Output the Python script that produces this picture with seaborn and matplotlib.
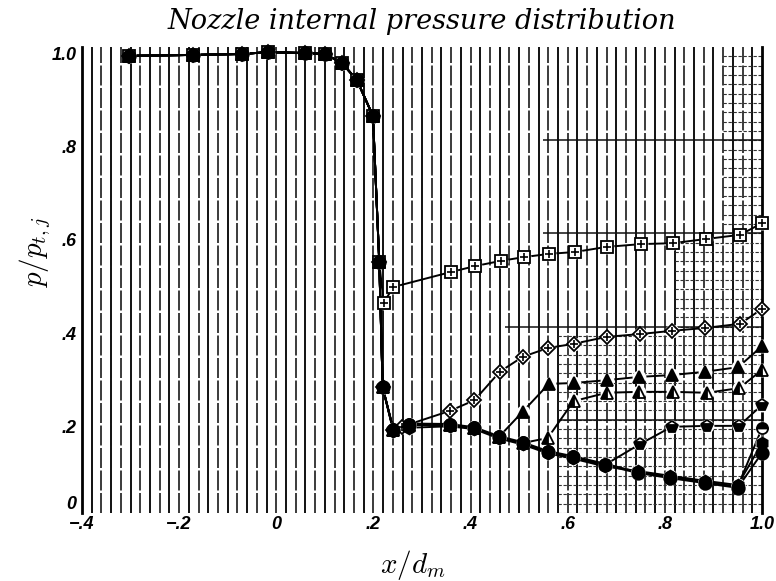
import numpy as np
import pandas as pd
import matplotlib
matplotlib.use("Agg")
import matplotlib.pyplot as plt
import seaborn as sns

sns.set_theme(style="white")
plt.rcParams["mathtext.fontset"] = "cm"
plt.rcParams["font.family"] = ["DejaVu Sans"]
plt.rcParams["text.color"] = "black"
plt.rcParams["axes.labelcolor"] = "black"
plt.rcParams["xtick.color"] = "black"
plt.rcParams["ytick.color"] = "black"

# Convergent-section taps, common to every run
x_upstream = [-0.303, -0.171, -0.071, -0.017, 0.059, 0.100, 0.135, 0.166, 0.199]
p_upstream = [0.981, 0.983, 0.985, 0.989, 0.987, 0.985, 0.966, 0.929, 0.852]

# Divergent-section taps for each run
x_run1 = [0.212, 0.221, 0.241, 0.359, 0.410, 0.462, 0.509, 0.561, 0.614, 0.680, 0.750, 0.816, 0.885, 0.955, 1.000]
p_run1 = [0.539, 0.451, 0.485, 0.517, 0.530, 0.541, 0.549, 0.556, 0.560, 0.571, 0.577, 0.579, 0.588, 0.597, 0.622]

x_run2 = [0.212, 0.219, 0.241, 0.258, 0.357, 0.408, 0.460, 0.507, 0.559, 0.612, 0.680, 0.749, 0.815, 0.882, 0.955, 1.000]
p_run2 = [0.539, 0.270, 0.178, 0.185, 0.219, 0.242, 0.303, 0.335, 0.354, 0.363, 0.378, 0.384, 0.391, 0.397, 0.406, 0.438]

x_run3 = [0.212, 0.219, 0.241, 0.274, 0.357, 0.408, 0.458, 0.507, 0.561, 0.612, 0.680, 0.746, 0.814, 0.882, 0.951, 1.000]
p_run3 = [0.539, 0.270, 0.178, 0.189, 0.189, 0.182, 0.163, 0.217, 0.277, 0.279, 0.285, 0.292, 0.296, 0.303, 0.313, 0.358]

x_run4 = [0.212, 0.219, 0.241, 0.274, 0.357, 0.408, 0.458, 0.507, 0.559, 0.612, 0.680, 0.746, 0.816, 0.887, 0.953, 1.000]
p_run4 = [0.539, 0.270, 0.178, 0.189, 0.189, 0.182, 0.163, 0.150, 0.161, 0.240, 0.258, 0.260, 0.260, 0.258, 0.268, 0.307]

x_run5 = [0.212, 0.219, 0.241, 0.274, 0.357, 0.408, 0.458, 0.507, 0.559, 0.610, 0.676, 0.749, 0.814, 0.887, 0.953, 1.000]
p_run5 = [0.539, 0.270, 0.178, 0.189, 0.189, 0.182, 0.163, 0.150, 0.131, 0.120, 0.103, 0.148, 0.185, 0.187, 0.187, 0.232]

x_run6 = [0.212, 0.219, 0.241, 0.274, 0.357, 0.408, 0.458, 0.507, 0.559, 0.610, 0.676, 0.744, 0.810, 0.883, 0.950, 1.000]
p_run6 = [0.539, 0.270, 0.178, 0.189, 0.189, 0.182, 0.163, 0.150, 0.131, 0.120, 0.103, 0.086, 0.075, 0.064, 0.054, 0.129]

x_run7 = [0.212, 0.219, 0.241, 0.274, 0.357, 0.408, 0.458, 0.507, 0.559, 0.610, 0.676, 0.744, 0.810, 0.883, 0.950, 1.000]
p_run7 = [0.539, 0.270, 0.175, 0.183, 0.186, 0.180, 0.160, 0.147, 0.128, 0.117, 0.100, 0.090, 0.080, 0.069, 0.060, 0.150]

x_run8 = [0.212, 0.219, 0.241, 0.274, 0.357, 0.408, 0.458, 0.507, 0.559, 0.610, 0.676, 0.744, 0.810, 0.883, 0.950, 1.000]
p_run8 = [0.539, 0.270, 0.180, 0.192, 0.191, 0.184, 0.165, 0.152, 0.133, 0.122, 0.106, 0.088, 0.078, 0.066, 0.057, 0.182]

runs = {
    1: (x_run1, p_run1), 2: (x_run2, p_run2), 3: (x_run3, p_run3), 4: (x_run4, p_run4),
    5: (x_run5, p_run5), 6: (x_run6, p_run6), 7: (x_run7, p_run7), 8: (x_run8, p_run8),
}

frames = []
for run, (xs, ps) in runs.items():
    frames.append(pd.DataFrame({"run": run, "x": x_upstream + xs, "p": p_upstream + ps}))
df = pd.concat(frames, ignore_index=True)

# marker symbol per run (drawn in this order, filled circles on top)
marker_style = {
    8: dict(marker="o", markersize=8, markerfacecolor="black", fillstyle="top", overlay=None),
    5: dict(marker="p", markersize=8.5, markerfacecolor="black", fillstyle="bottom", overlay=None),
    4: dict(marker="^", markersize=9, markerfacecolor="black", fillstyle="left", overlay=None),
    2: dict(marker="D", markersize=7.5, markerfacecolor="white", fillstyle="full", overlay="+"),
    1: dict(marker="s", markersize=8, markerfacecolor="white", fillstyle="full", overlay="+"),
    3: dict(marker="^", markersize=9, markerfacecolor="black", fillstyle="full", overlay=None),
    7: dict(marker="h", markersize=8.5, markerfacecolor="black", fillstyle="full", overlay=None),
    6: dict(marker="o", markersize=9, markerfacecolor="black", fillstyle="full", overlay=None),
}

fig = plt.figure(figsize=(7.76, 5.81), dpi=100)
ax = fig.add_axes([82 / 776, 1 - 513 / 581, 680 / 776, 466 / 581])
ax.set_xlim(-0.4, 1.0)
ax.set_ylim(0.0, 1.0)

# graph-paper rulings
xs_grid = np.round(np.arange(-0.38, 1.0, 0.02), 3)
for i, gx in enumerate(xs_grid):
    if i % 2 == 0:
        ax.vlines(gx, 0, 1.0, colors="#111111", lw=1.4, zorder=0)
    else:
        ax.vlines(gx, 0, 1.0, colors="#1a1a1a", lw=1.2, linestyles=(0, (12, 1.5)), zorder=0)

for gy in np.round(np.arange(0.0, 1.0, 0.02), 3):
    if gy < 0.4:
        x0 = 0.58
    elif gy < 0.6:
        x0 = 0.82
    else:
        x0 = 0.92
    ax.hlines(gy, x0, 1.0, colors="#333333", lw=0.8, linestyles=(0, (3, 1.5)), zorder=0)

for gy, x0 in [(0.4, 0.47), (0.6, 0.55), (0.8, 0.55), (0.2, 0.58)]:
    ax.hlines(gy, x0, 1.0, colors="#111111", lw=1.1, zorder=0)

# connecting curves
for run in runs:
    sub = df[df["run"] == run]
    sns.lineplot(data=sub, x="x", y="p", sort=False, estimator=None, color="black",
                 lw=1.4, ax=ax, zorder=2, clip_on=False)

# white clearance around every symbol
sns.scatterplot(data=df, x="x", y="p", color="white", s=100, marker="o",
                linewidth=0, ax=ax, zorder=3, clip_on=False)

# symbols
for run, st in marker_style.items():
    sub = df[df["run"] == run]
    sns.lineplot(data=sub, x="x", y="p", sort=False, estimator=None, linestyle="none",
                 marker=st["marker"], markersize=st["markersize"],
                 markerfacecolor=st["markerfacecolor"], markerfacecoloralt="white",
                 fillstyle=st["fillstyle"], markeredgecolor="black", markeredgewidth=1.3,
                 ax=ax, zorder=4, clip_on=False)
    if st["overlay"]:
        sns.lineplot(data=sub, x="x", y="p", sort=False, estimator=None, linestyle="none",
                     marker=st["overlay"], markersize=st["markersize"] * 0.75,
                     markeredgecolor="black", markeredgewidth=1.2, ax=ax, zorder=4,
                     clip_on=False)

# frame
for side in ["top", "bottom"]:
    ax.spines[side].set_visible(False)
for side in ["left", "right"]:
    ax.spines[side].set_color("black")
    ax.spines[side].set_linewidth(2.0)

tick_font = dict(family="Liberation Sans", style="italic", weight="bold", size=13)
x_ticks = [-0.4, -0.2, 0.0, 0.2, 0.4, 0.6, 0.8, 1.0]
x_tick_labels = ["\u2212.4", "\u2212.2", "0", ".2", ".4", ".6", ".8", "1.0"]
y_ticks = [0.0, 0.2, 0.4, 0.6, 0.8, 1.0]
y_tick_labels = ["0", ".2", ".4", ".6", ".8", "1.0"]
ax.set_xticks(x_ticks)
ax.set_xticklabels(x_tick_labels, fontdict=tick_font)
ax.set_yticks(y_ticks)
ax.set_yticklabels(y_tick_labels, fontdict=tick_font)
ax.tick_params(axis="both", length=0)
ax.tick_params(axis="x", pad=2)
ax.tick_params(axis="y", pad=4)
for i, lab in enumerate(ax.get_yticklabels()):
    lab.set_va("bottom" if i == 0 else "top")

ax.set_xlabel(r"$x/d_m$", fontsize=21, color="black")
ax.xaxis.set_label_coords(0.487, -0.112)
ax.xaxis.label.set_va("center")
ax.set_ylabel(r"$p/p_{t,j}$", fontsize=21, color="black")
ax.yaxis.set_label_coords(-0.069, 0.56)
ax.yaxis.label.set_va("center")
ax.set_title("Nozzle internal pressure distribution", family="DejaVu Serif",
             style="italic", fontsize=19.5, pad=13, color="black")

fig.savefig("out.png", dpi=100)
